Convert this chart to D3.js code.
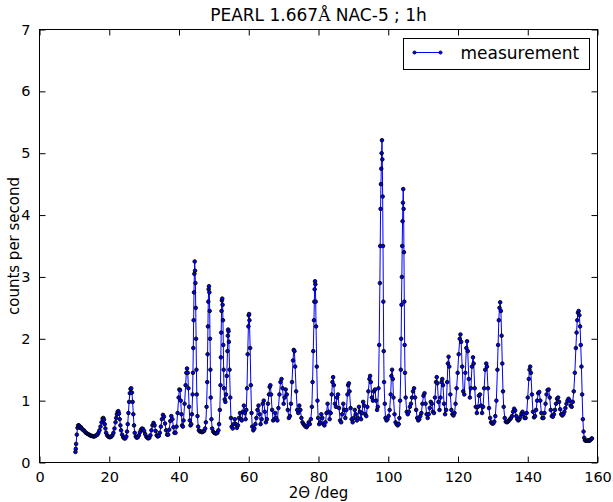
<!DOCTYPE html>
<html>
<head>
<meta charset="utf-8">
<script src="https://cdn.jsdelivr.net/npm/d3@7"></script>
<style>
  body { margin: 0; background: #fff; }
  text { font-family: "DejaVu Sans", sans-serif; }
</style>
</head>
<body>
<div id="chart"></div>
<script>
var width = 613, height = 502

// 2 theta (deg)
var twoTheta = [
  10.3, 10.4, 10.5, 10.7, 10.9, 11.1, 11.3, 11.5, 11.7, 11.9,
  12.1, 12.4, 12.7, 13.0, 13.3, 13.6, 13.9, 14.2, 14.5, 14.8,
  15.1, 15.4, 15.7, 16.0, 16.3, 16.6, 16.9, 17.2, 17.5, 17.8,
  18.1, 18.3, 18.5, 18.7, 18.9, 19.1, 19.4, 19.7, 20.0, 20.3,
  20.6, 20.9, 21.2, 21.5, 21.8, 22.0, 22.2, 22.4, 22.6, 22.8,
  23.0, 23.2, 23.4, 23.7, 24.0, 24.3, 24.6, 24.9, 25.1, 25.3,
  25.5, 25.7, 25.9, 26.1, 26.3, 26.5, 26.7, 26.9, 27.1, 27.3,
  27.6, 27.9, 28.2, 28.5, 28.8, 29.1, 29.4, 29.7, 30.0, 30.3,
  30.6, 30.9, 31.2, 31.5, 31.8, 32.1, 32.4, 32.7, 33.0, 33.3,
  33.6, 33.9, 34.2, 34.5, 34.8, 35.1, 35.4, 35.7, 36.0, 36.3,
  36.6, 36.9, 37.2, 37.5, 37.8, 38.1, 38.4, 38.7, 39.0, 39.3,
  39.6, 39.9, 40.1, 40.3, 40.5, 40.7, 40.9, 41.1, 41.3, 41.6,
  41.9, 42.1, 42.3, 42.5, 42.7, 42.9, 43.1, 43.3, 43.5, 43.7,
  43.9, 44.0, 44.1, 44.2, 44.3, 44.4, 44.5, 44.6, 44.7, 44.8,
  44.9, 45.0, 45.1, 45.3, 45.5, 45.7, 46.0, 46.3, 46.6, 46.9,
  47.2, 47.5, 47.7, 47.9, 48.1, 48.2, 48.3, 48.4, 48.5, 48.6,
  48.7, 48.8, 48.9, 49.0, 49.1, 49.3, 49.5, 49.8, 50.1, 50.4,
  50.7, 51.0, 51.3, 51.5, 51.7, 51.9, 52.0, 52.1, 52.2, 52.3,
  52.4, 52.5, 52.6, 52.7, 52.8, 52.9, 53.1, 53.3, 53.5, 53.7,
  53.9, 54.0, 54.1, 54.2, 54.3, 54.5, 54.7, 54.9, 55.1, 55.4,
  55.7, 56.0, 56.3, 56.6, 56.9, 57.2, 57.5, 57.8, 58.0, 58.3,
  58.6, 58.9, 59.1, 59.3, 59.5, 59.7, 59.9, 60.0, 60.1, 60.2,
  60.4, 60.6, 60.8, 61.0, 61.3, 61.6, 61.9, 62.2, 62.5, 62.8,
  63.1, 63.4, 63.7, 64.0, 64.3, 64.6, 64.9, 65.2, 65.5, 65.8,
  66.0, 66.2, 66.4, 66.7, 67.0, 67.3, 67.6, 67.9, 68.2, 68.5,
  68.8, 69.1, 69.4, 69.7, 70.0, 70.3, 70.6, 70.9, 71.2, 71.5,
  71.8, 72.1, 72.4, 72.7, 72.9, 73.1, 73.3, 73.6, 73.9, 74.2,
  74.5, 74.8, 75.1, 75.4, 75.7, 76.0, 76.3, 76.6, 76.9, 77.2,
  77.5, 77.8, 78.1, 78.3, 78.5, 78.7, 78.8, 78.9, 79.0, 79.1,
  79.2, 79.3, 79.5, 79.7, 79.9, 80.2, 80.5, 80.8, 81.1, 81.4,
  81.7, 82.0, 82.3, 82.6, 82.9, 83.2, 83.5, 83.8, 84.0, 84.2,
  84.4, 84.7, 85.0, 85.3, 85.6, 85.9, 86.2, 86.5, 86.8, 87.1,
  87.4, 87.7, 88.0, 88.3, 88.5, 88.7, 88.9, 89.2, 89.5, 89.8,
  90.1, 90.4, 90.7, 91.0, 91.3, 91.6, 91.9, 92.2, 92.5, 92.8,
  93.1, 93.4, 93.7, 94.0, 94.3, 94.6, 94.8, 95.0, 95.3, 95.6,
  95.9, 96.2, 96.5, 96.8, 97.0, 97.2, 97.4, 97.6, 97.7, 97.8,
  97.9, 98.0, 98.1, 98.2, 98.3, 98.4, 98.5, 98.6, 98.7, 98.8,
  99.0, 99.2, 99.5, 99.8, 100.1, 100.4, 100.7, 100.9, 101.1, 101.3,
  101.5, 101.8, 102.1, 102.4, 102.7, 103.0, 103.2, 103.4, 103.6, 103.7,
  103.8, 103.9, 104.0, 104.1, 104.2, 104.3, 104.4, 104.5, 104.6, 104.7,
  104.8, 105.0, 105.3, 105.6, 105.9, 106.2, 106.5, 106.8, 107.1, 107.4,
  107.7, 108.0, 108.3, 108.6, 108.9, 109.2, 109.5, 109.8, 110.1, 110.4,
  110.7, 111.0, 111.3, 111.6, 111.9, 112.2, 112.5, 112.8, 113.1, 113.4,
  113.7, 113.9, 114.1, 114.4, 114.7, 115.0, 115.3, 115.5, 115.7, 116.0,
  116.3, 116.6, 116.9, 117.1, 117.3, 117.5, 117.8, 118.1, 118.4, 118.7,
  119.0, 119.3, 119.6, 119.9, 120.2, 120.5, 120.7, 120.9, 121.2, 121.5,
  121.8, 122.1, 122.4, 122.6, 122.8, 123.1, 123.4, 123.7, 124.0, 124.3,
  124.5, 124.8, 125.1, 125.4, 125.7, 126.0, 126.3, 126.6, 126.9, 127.2,
  127.5, 127.8, 128.1, 128.3, 128.6, 128.9, 129.2, 129.5, 129.8, 130.1,
  130.4, 130.7, 131.0, 131.3, 131.5, 131.7, 131.9, 132.1, 132.3, 132.5,
  132.7, 132.9, 133.1, 133.4, 133.7, 134.0, 134.3, 134.6, 134.9, 135.2,
  135.5, 135.8, 136.1, 136.4, 136.7, 137.0, 137.3, 137.6, 137.9, 138.2,
  138.5, 138.8, 139.1, 139.4, 139.7, 140.0, 140.3, 140.5, 140.7, 140.9,
  141.2, 141.5, 141.8, 142.1, 142.4, 142.7, 143.0, 143.3, 143.6, 143.9,
  144.2, 144.5, 144.8, 145.1, 145.4, 145.7, 146.0, 146.3, 146.6, 146.9,
  147.2, 147.5, 147.8, 148.1, 148.4, 148.7, 149.0, 149.3, 149.6, 149.9,
  150.2, 150.5, 150.8, 151.1, 151.4, 151.7, 152.0, 152.3, 152.6, 152.9,
  153.2, 153.5, 153.8, 154.0, 154.2, 154.4, 154.6, 154.8, 155.0, 155.2,
  155.4, 155.6, 155.8, 156.0, 156.2, 156.4, 156.7, 157.0, 157.3, 157.6,
  157.9, 158.2, 158.4
]

// counts per second, same order as twoTheta
var counts = [
  0.17, 0.22, 0.30, 0.45, 0.56, 0.60, 0.60, 0.58, 0.56, 0.57,
  0.55, 0.53, 0.52, 0.50, 0.48, 0.47, 0.46, 0.45, 0.44, 0.43,
  0.43, 0.42, 0.42, 0.43, 0.44, 0.45, 0.48, 0.52, 0.58, 0.65,
  0.71, 0.72, 0.69, 0.62, 0.55, 0.48, 0.44, 0.42, 0.41, 0.41,
  0.42, 0.44, 0.48, 0.55, 0.65, 0.72, 0.78, 0.82, 0.83, 0.79,
  0.70, 0.60, 0.52, 0.45, 0.41, 0.39, 0.39, 0.42, 0.50, 0.62,
  0.80, 0.98, 1.12, 1.19, 1.20, 1.13, 0.98, 0.78, 0.60, 0.48,
  0.42, 0.40, 0.41, 0.44, 0.49, 0.53, 0.55, 0.54, 0.51, 0.46,
  0.42, 0.40, 0.39, 0.40, 0.44, 0.52, 0.60, 0.64, 0.60, 0.51,
  0.44, 0.42, 0.43, 0.48, 0.58, 0.70, 0.77, 0.74, 0.63, 0.52,
  0.45, 0.45, 0.53, 0.67, 0.75, 0.70, 0.57, 0.48, 0.48, 0.58,
  0.80, 1.05, 1.18, 1.17, 1.00, 0.78, 0.60, 0.58, 0.68, 0.95,
  1.25, 1.45, 1.52, 1.45, 1.20, 0.90, 0.68, 0.60, 0.62, 0.78,
  1.10, 1.45, 1.85, 2.30, 2.75, 3.05, 3.25, 3.10, 2.90, 2.50,
  2.00, 1.50, 1.10, 0.75, 0.58, 0.52, 0.50, 0.50, 0.49, 0.50,
  0.51, 0.55, 0.65, 0.90, 1.30, 1.75, 2.20, 2.60, 2.80, 2.85,
  2.75, 2.45, 2.00, 1.50, 1.05, 0.70, 0.55, 0.50, 0.48, 0.47,
  0.47, 0.48, 0.52, 0.62, 0.85, 1.25, 1.70, 2.10, 2.45, 2.62,
  2.65, 2.55, 2.30, 1.90, 1.50, 1.20, 1.02, 0.98, 1.10, 1.40,
  1.80, 2.05, 2.15, 2.12, 1.95, 1.50, 1.05, 0.72, 0.58, 0.55,
  0.62, 0.70, 0.62, 0.56, 0.60, 0.72, 0.80, 0.70, 0.68, 0.82,
  0.92, 0.80, 0.70, 0.85, 1.20, 1.75, 2.20, 2.38, 2.40, 2.30,
  1.85, 1.25, 0.80, 0.58, 0.52, 0.55, 0.62, 0.72, 0.85, 0.92,
  0.78, 0.62, 0.70, 0.95, 1.00, 0.82, 0.65, 0.70, 0.95, 1.10,
  1.22, 1.25, 1.10, 0.85, 0.68, 0.70, 0.80, 0.72, 0.68, 0.88,
  1.10, 1.30, 1.35, 1.20, 0.95, 1.05, 1.18, 1.10, 0.85, 0.72,
  0.75, 0.95, 1.30, 1.65, 1.82, 1.80, 1.55, 1.15, 0.85, 0.80,
  0.92, 0.85, 0.72, 0.65, 0.62, 0.60, 0.58, 0.57, 0.60, 0.65,
  0.62, 0.70, 0.90, 1.30, 1.80, 2.30, 2.60, 2.80, 2.93, 2.88,
  2.60, 2.20, 1.55, 1.00, 0.72, 0.62, 0.65, 0.78, 0.72, 0.62,
  0.60, 0.65, 0.80, 0.95, 0.82, 0.70, 0.80, 1.10, 1.30, 1.38,
  1.25, 0.95, 0.90, 1.05, 1.10, 0.88, 0.68, 0.65, 0.78, 0.95,
  0.85, 0.72, 0.85, 1.10, 1.25, 1.28, 1.15, 0.88, 0.70, 0.65,
  0.72, 0.85, 0.78, 0.68, 0.72, 0.90, 0.82, 0.70, 0.80, 0.98,
  0.92, 0.78, 0.75, 0.90, 1.15, 1.35, 1.40, 1.30, 1.05, 1.00,
  1.15, 1.18, 1.00, 0.85, 0.90, 1.20, 1.90, 2.90, 3.50, 4.10,
  4.50, 4.75, 5.00, 5.21, 4.90, 4.30, 3.50, 2.60, 1.80, 1.30,
  0.95, 0.72, 0.68, 0.70, 0.75, 0.85, 1.10, 1.40, 1.50, 1.35,
  1.05, 0.78, 0.65, 0.62, 0.60, 0.62, 0.72, 1.00, 1.50, 2.00,
  2.55, 3.00, 3.50, 3.90, 4.20, 4.42, 4.10, 3.40, 2.60, 1.90,
  1.45, 1.05, 0.82, 0.78, 0.82, 0.90, 0.95, 1.05, 1.15, 1.20,
  1.05, 0.85, 0.72, 0.68, 0.70, 0.75, 0.80, 0.95, 1.08, 1.12,
  0.95, 0.78, 0.72, 0.78, 0.88, 0.98, 0.95, 0.82, 0.80, 1.05,
  1.30, 1.38, 1.28, 0.98, 0.85, 1.05, 1.30, 1.35, 1.25, 0.95,
  0.78, 0.85, 1.30, 1.60, 1.71, 1.55, 1.10, 0.85, 0.78, 0.76,
  0.80, 0.95, 1.20, 1.45, 1.75, 2.00, 2.07, 1.95, 1.55, 1.15,
  1.10, 1.45, 1.85, 1.96, 1.80, 1.35, 1.05, 1.20, 1.55, 1.70,
  1.60, 1.20, 0.90, 0.80, 0.90, 1.08, 1.10, 0.92, 0.80, 0.90,
  1.20, 1.50, 1.60, 1.55, 1.20, 0.88, 0.72, 0.65, 0.63, 0.63,
  0.66, 0.75, 1.00, 1.50, 1.90, 2.30, 2.50, 2.59, 2.45, 2.05,
  1.60, 1.15, 0.90, 0.72, 0.66, 0.65, 0.66, 0.68, 0.70, 0.72,
  0.75, 0.82, 0.87, 0.84, 0.75, 0.70, 0.68, 0.70, 0.74, 0.79,
  0.82, 0.78, 0.72, 0.72, 0.80, 1.05, 1.35, 1.50, 1.55, 1.45,
  1.10, 0.82, 0.73, 0.75, 0.85, 1.00, 1.12, 1.14, 1.00, 0.80,
  0.72, 0.72, 0.80, 0.95, 1.10, 1.17, 1.18, 1.05, 0.85, 0.75,
  0.74, 0.78, 0.85, 0.95, 1.03, 1.05, 0.98, 0.86, 0.78, 0.76,
  0.78, 0.82, 0.88, 0.95, 1.00, 1.03, 1.00, 0.92, 0.90, 0.98,
  1.15, 1.45, 1.85, 2.10, 2.30, 2.42, 2.45, 2.38, 2.20, 1.90,
  1.55, 1.10, 0.70, 0.50, 0.40, 0.36, 0.35, 0.35, 0.36, 0.35,
  0.36, 0.38, 0.39
]

var xTicks = [0, 20, 40, 60, 80, 100, 120, 140, 160]
var yTicks = [0, 1, 2, 3, 4, 5, 6, 7]
var seriesName = "measurement"

// plot box (note: "top" is a reserved window global, so prefix these)
var plotLeft = 39.5, plotRight = 597.5, plotTop = 29.5, plotBottom = 462.5

var svg = d3.select("#chart")
    .append("svg")
    .attr("width", width)
    .attr("height", height)

var x = d3.scaleLinear().domain([0, 160]).range([plotLeft, plotRight])
var y = d3.scaleLinear().domain([0, 7]).range([plotBottom, plotTop])

var n = Math.min(twoTheta.length, counts.length)
var data = d3.range(n).map(function(i) { return [twoTheta[i], counts[i]] })

// line + markers
var line = d3.line()
    .x(function(d) { return x(d[0]) })
    .y(function(d) { return y(d[1]) })

svg.append("path")
    .datum(data)
    .attr("d", line)
    .attr("fill", "none")
    .attr("stroke", "#0000ff")
    .attr("stroke-width", 1)

svg.append("g")
    .selectAll("circle")
    .data(data)
    .enter().append("circle")
    .attr("cx", function(d) { return x(d[0]) })
    .attr("cy", function(d) { return y(d[1]) })
    .attr("r", 1.8)
    .attr("fill", "#0000ff")
    .attr("stroke", "#000")
    .attr("stroke-width", 0.9)

// axes: inside ticks on all sides (classic matplotlib look)
var tl = 6
svg.append("g")
    .attr("transform", "translate(0," + plotBottom + ")")
    .call(d3.axisBottom(x).tickValues(xTicks).tickFormat(d3.format("d")).tickSizeInner(-tl).tickSizeOuter(0).tickPadding(9))
svg.append("g")
    .attr("transform", "translate(0," + plotTop + ")")
    .call(d3.axisTop(x).tickValues(xTicks).tickSizeInner(-tl).tickSizeOuter(0).tickFormat(""))
svg.append("g")
    .attr("transform", "translate(" + plotLeft + ",0)")
    .call(d3.axisLeft(y).tickValues(yTicks).tickFormat(d3.format("d")).tickSizeInner(-tl).tickSizeOuter(0).tickPadding(9))
svg.append("g")
    .attr("transform", "translate(" + plotRight + ",0)")
    .call(d3.axisRight(y).tickValues(yTicks).tickSizeInner(-tl).tickSizeOuter(0).tickFormat(""))

svg.selectAll(".domain").remove()
svg.selectAll(".tick line").attr("stroke", "#000").attr("stroke-width", 1)
svg.selectAll(".tick text")
    .attr("font-family", "DejaVu Sans, sans-serif")
    .attr("font-size", 14.5)
    .attr("fill", "#000")

// frame
svg.append("rect")
    .attr("x", plotLeft).attr("y", plotTop)
    .attr("width", plotRight - plotLeft).attr("height", plotBottom - plotTop)
    .attr("fill", "none")
    .attr("stroke", "#000")
    .attr("stroke-width", 1)

// title
var title = svg.append("text")
    .attr("x", (plotLeft + plotRight) / 2)
    .attr("y", 21)
    .attr("text-anchor", "middle")
    .attr("font-size", 17)
title.append("tspan").text("PEARL 1.667")
title.append("tspan").attr("font-family", "DejaVu Serif, serif").text("Å")
title.append("tspan").text(" NAC-5 ; 1h")

// axis labels
svg.append("text")
    .attr("x", (plotLeft + plotRight) / 2)
    .attr("y", 498)
    .attr("text-anchor", "middle")
    .attr("font-size", 15)
    .text("2Θ /deg")

svg.append("text")
    .attr("transform", "translate(19," + ((plotTop + plotBottom) / 2) + ") rotate(-90)")
    .attr("text-anchor", "middle")
    .attr("font-size", 15)
    .text("counts per second")

// legend
var lg = svg.append("g").attr("transform", "translate(403.5,38.5)")
lg.append("rect")
    .attr("width", 186).attr("height", 31)
    .attr("fill", "#fff")
    .attr("stroke", "#000")
    .attr("stroke-width", 1)
lg.append("line")
    .attr("x1", 11).attr("x2", 37).attr("y1", 14).attr("y2", 14)
    .attr("stroke", "#0000ff").attr("stroke-width", 1)
lg.selectAll("circle.lm")
    .data([11, 37])
    .enter().append("circle")
    .attr("class", "lm")
    .attr("cx", function(d) { return d }).attr("cy", 14)
    .attr("r", 1.6)
    .attr("fill", "#0000ff").attr("stroke", "#000").attr("stroke-width", 0.8)
lg.append("text")
    .attr("x", 57).attr("y", 20)
    .attr("font-size", 17)
    .text(seriesName)
</script>
</body>
</html>
